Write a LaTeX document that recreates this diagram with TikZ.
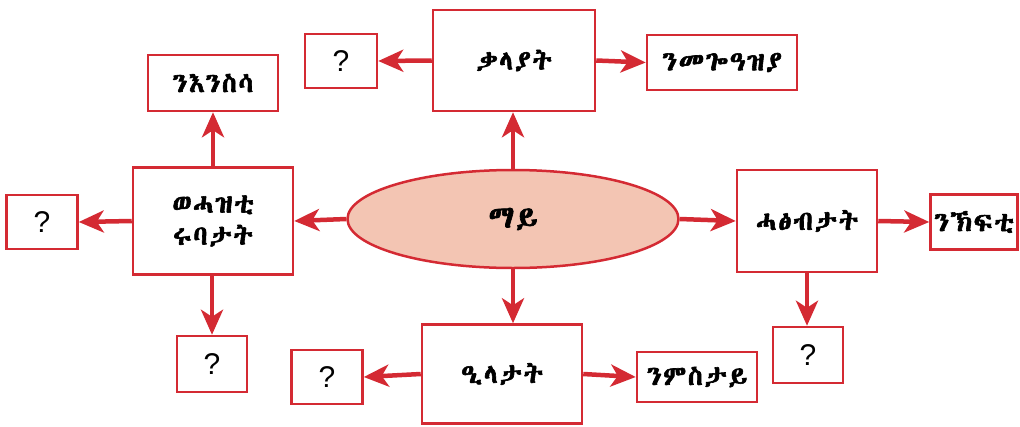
\documentclass[tikz,border=0pt]{standalone}
\usepackage{fontspec}
\usetikzlibrary{arrows.meta,shapes.geometric}
\setsansfont{Liberation Sans}
\newfontfamily\ethf[FakeBold=2.2,LetterSpace=6]{Abyssinica SIL}
\definecolor{myred}{HTML}{D42A33}
\definecolor{ellfill}{HTML}{F3C5B3}
\tikzset{
  bx/.style={draw=myred, line width=2.5pt, fill=white, inner sep=0pt, align=center},
  eth/.style={font=\ethf\fontsize{27}{32}\selectfont},
  qm/.style={bx, font=\sffamily\fontsize{30}{32}\selectfont},
  arr/.style={draw=myred, line width=4.5pt, -{Stealth[length=25pt,width=22pt,inset=7pt]}}
}
\begin{document}
\begin{tikzpicture}[x=1pt,y=-1pt]
\useasboundingbox (0,0) rectangle (1020,426);
\node[draw=myred, line width=2.5pt, fill=ellfill, ellipse, minimum width=331, minimum height=98, inner sep=0pt, font=\ethf\fontsize{31}{34}\selectfont] (ell) at (513,219) {ማይ};
\node[bx, eth, minimum width=162, minimum height=101] (top) at (514,60.5) {ቃላያት};
\node[qm, minimum width=72, minimum height=54] (q1) at (341,61) {?};
\node[bx, eth, minimum width=150, minimum height=55] (tr) at (722,62.5) {ንመጐዓዝያ};
\node[bx, eth, minimum width=130, minimum height=56] (an) at (213,83) {ንእንስሳ};
\node[bx, eth, minimum width=160, minimum height=107] (lb) at (213,221) {ወሓዝቲ\\ሩባታት};
\node[qm, minimum width=71, minimum height=54] (q2) at (42,222) {?};
\node[qm, minimum width=70, minimum height=56] (q3) at (212,364) {?};
\node[bx, eth, minimum width=140, minimum height=102] (rb) at (807,221) {ሓፅብታት};
\node[bx, eth, minimum width=87, minimum height=55] (rr) at (974,222) {ንኽፍቲ};
\node[qm, minimum width=70, minimum height=56] (q4) at (808,355) {?};
\node[bx, eth, minimum width=160, minimum height=99] (bb) at (502,374) {ዒላታት};
\node[bx, eth, minimum width=120, minimum height=50] (br) at (697,377) {ንምስታይ};
\node[qm, minimum width=71, minimum height=54] (q5) at (327,377) {?};
\draw[arr] (ell.north) -- (ell.north |- top.south);
\draw[arr] (top.west) -- (q1.east);
\draw[arr] (top.east) -- (tr.west);
\draw[arr] (ell.west) -- (lb.east);
\draw[arr] (lb.north) -- (an.south);
\draw[arr] (lb.west) -- (q2.east);
\draw[arr] (q3.north |- lb.south) -- (q3.north);
\draw[arr] (ell.east) -- (rb.west);
\draw[arr] (rb.east) -- (rr.west);
\draw[arr] (rb.south) -- (rb.south |- q4.north);
\draw[arr] (ell.south) -- (ell.south |- bb.north);
\draw[arr] (bb.west) -- (q5.east);
\draw[arr] (bb.east) -- (br.west);
\end{tikzpicture}
\end{document}
